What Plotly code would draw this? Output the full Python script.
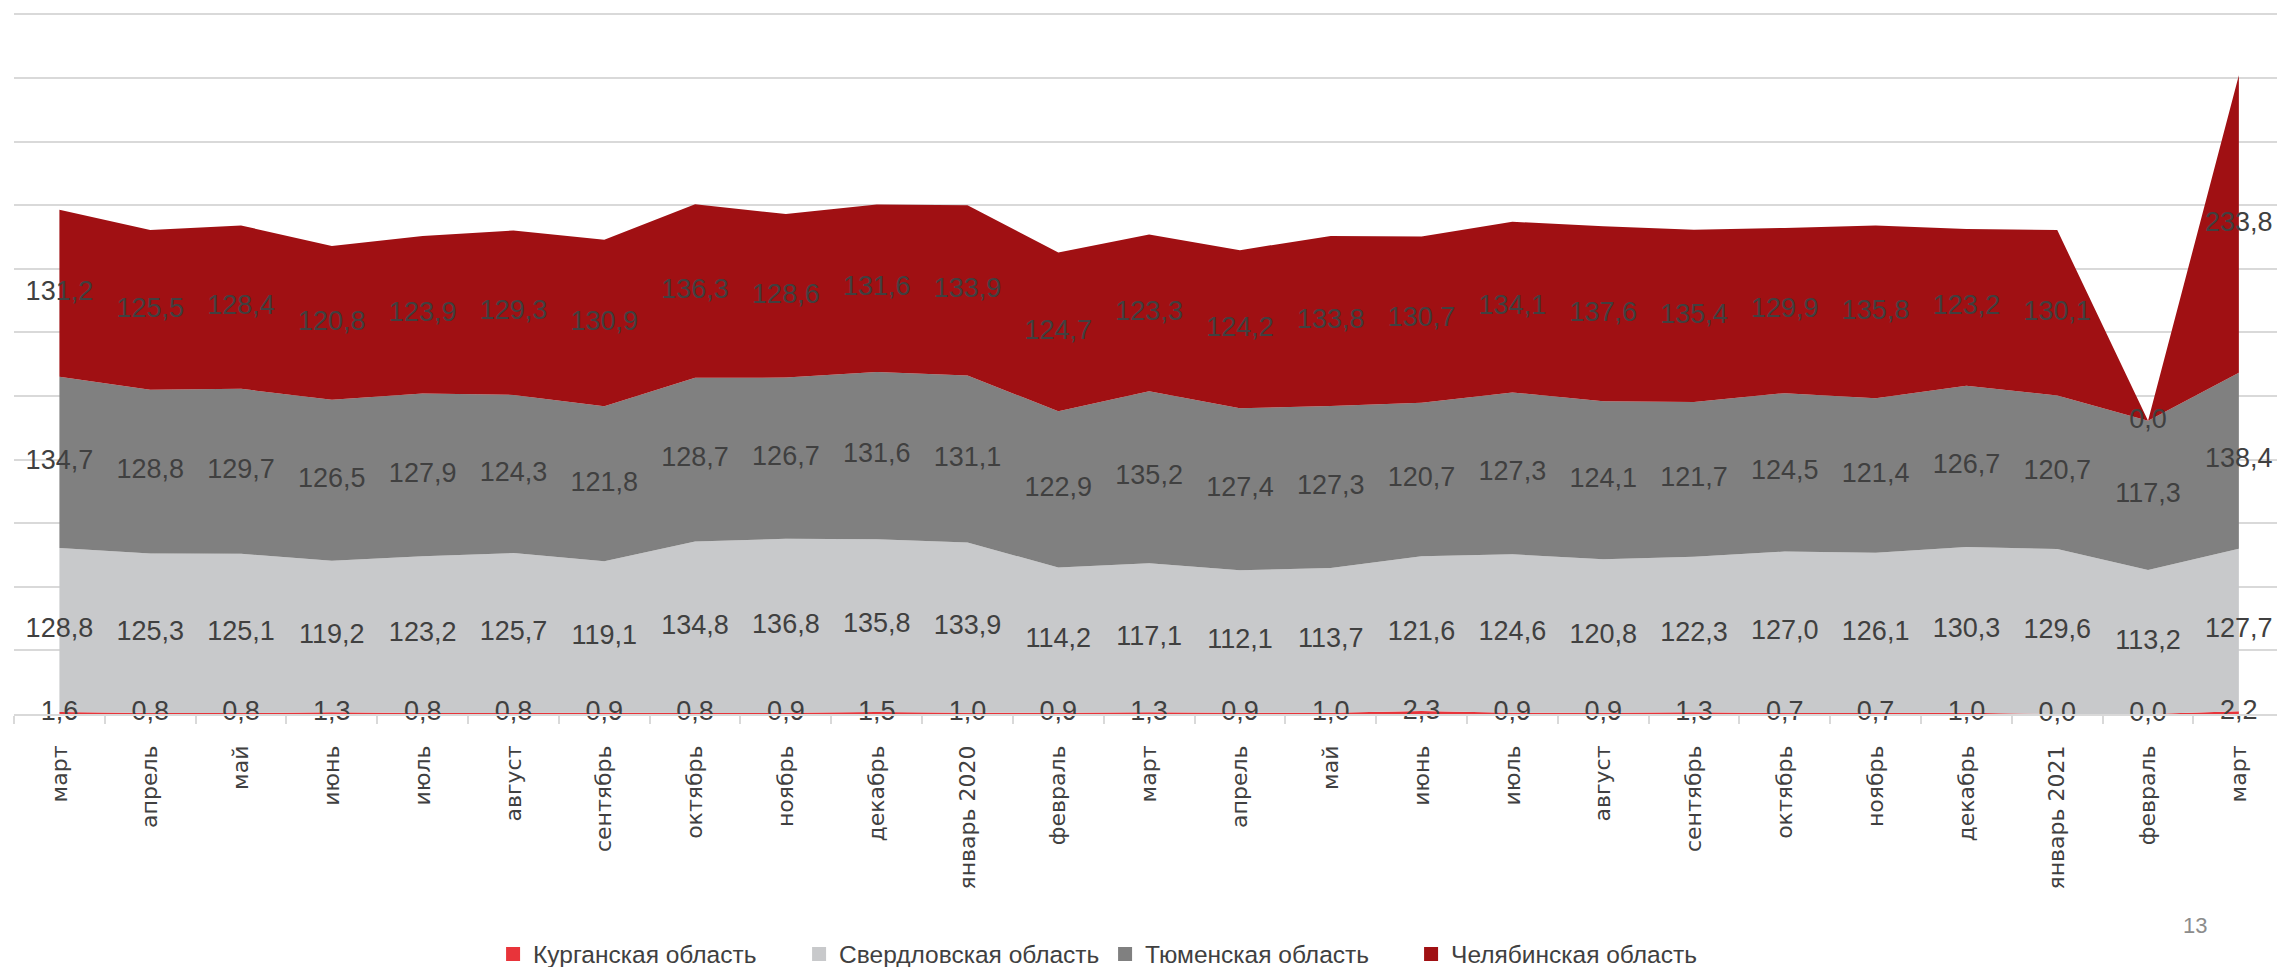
import plotly.graph_objects as go

months = ["март", "апрель", "май", "июнь", "июль", "август", "сентябрь", "октябрь",
          "ноябрь", "декабрь", "январь 2020", "февраль", "март", "апрель", "май", "июнь",
          "июль", "август", "сентябрь", "октябрь", "ноябрь", "декабрь", "январь 2021",
          "февраль", "март"]

kurgan = [1.6, 0.8, 0.8, 1.3, 0.8, 0.8, 0.9, 0.8, 0.9, 1.5, 1.0, 0.9, 1.3, 0.9, 1.0, 2.3,
          0.9, 0.9, 1.3, 0.7, 0.7, 1.0, 0.0, 0.0, 2.2]
sverdl = [128.8, 125.3, 125.1, 119.2, 123.2, 125.7, 119.1, 134.8, 136.8, 135.8, 133.9, 114.2,
          117.1, 112.1, 113.7, 121.6, 124.6, 120.8, 122.3, 127.0, 126.1, 130.3, 129.6, 113.2, 127.7]
tyumen = [134.7, 128.8, 129.7, 126.5, 127.9, 124.3, 121.8, 128.7, 126.7, 131.6, 131.1, 122.9,
          135.2, 127.4, 127.3, 120.7, 127.3, 124.1, 121.7, 124.5, 121.4, 126.7, 120.7, 117.3, 138.4]
chelyab = [131.2, 125.5, 128.4, 120.8, 123.9, 129.3, 130.9, 136.3, 128.6, 131.6, 133.9, 124.7,
           123.3, 124.2, 133.8, 130.7, 134.1, 137.6, 135.4, 129.9, 135.8, 123.2, 130.1, 0.0, 233.8]

series_names = ["Курганская область", "Свердловская область", "Тюменская область", "Челябинская область"]
series_vals = [kurgan, sverdl, tyumen, chelyab]
colors = ["#E8343A", "#C8C9CB", "#808080", "#A01013"]

x = list(range(len(months)))
fig = go.Figure()

# stacked areas
for name, vals, col in zip(series_names, series_vals, colors):
    fig.add_trace(go.Scatter(x=x, y=vals, name=name, stackgroup="one", mode="none",
                             fillcolor=col, showlegend=False, hoverinfo="skip"))

# data labels centered in each band
base = [0.0] * len(months)
for vals in series_vals:
    mids = [b + v / 2 for b, v in zip(base, vals)]
    txt = [f"{v:.1f}".replace(".", ",") for v in vals]
    fig.add_trace(go.Scatter(x=x, y=mids, mode="text", text=txt, textposition="middle center",
                             textfont=dict(family="Liberation Sans, Arial, sans-serif", size=27,
                                           color="#404040"),
                             showlegend=False, hoverinfo="skip", cliponaxis=False))
    base = [b + v for b, v in zip(base, vals)]

# legend entries (square markers)
for name, col in zip(series_names, colors):
    fig.add_trace(go.Scatter(x=[None], y=[None], mode="markers", name=name,
                             marker=dict(symbol="square", size=14, color=col)))

fig.update_layout(
    width=2277, height=967,
    margin=dict(l=14, r=0, t=13, b=253),
    plot_bgcolor="white", paper_bgcolor="white",
    showlegend=True,
    legend=dict(orientation="h", traceorder="normal", x=0.2117, xanchor="left",
                entrywidth=261, entrywidthmode="pixels",
                yref="container", y=(967 - 954) / 967, yanchor="middle",
                font=dict(family="Liberation Sans, Arial, sans-serif", size=24.5, color="#404040"),
                bgcolor="rgba(0,0,0,0)"),
    xaxis=dict(range=[-0.5, 24.42], tickmode="array", tickvals=x, ticktext=months,
               tickangle=-90, ticks="outside", ticklen=8, tickcolor="rgba(0,0,0,0)",
               ticklabelstandoff=13, automargin=False,
               tickfont=dict(family="DejaVu Sans, Verdana, sans-serif", size=22, color="#404040"),
               showgrid=False, zeroline=False, showline=True, linecolor="#D9D9D9", linewidth=1.5,
               minor=dict(tickvals=[i - 0.5 for i in x], ticks="outside", ticklen=8,
                          tickcolor="#D9D9D9", tickwidth=1.5, showgrid=False)),
    yaxis=dict(range=[0, 551], tickmode="array", tickvals=list(range(0, 551, 50)),
               showticklabels=False, showgrid=True, automargin=False,
               gridcolor="#D9D9D9", gridwidth=1.5, zeroline=False, ticks=""),
    annotations=[dict(text="13", xref="paper", yref="paper", x=0.9638, y=-0.3024,
                      showarrow=False, xanchor="center", yanchor="middle",
                      font=dict(family="Liberation Sans, Arial, sans-serif", size=22, color="#8C8C8C"))],
)

fig.write_html("out.html", config={"displayModeBar": False},
               post_script="document.body.style.margin='0';")
